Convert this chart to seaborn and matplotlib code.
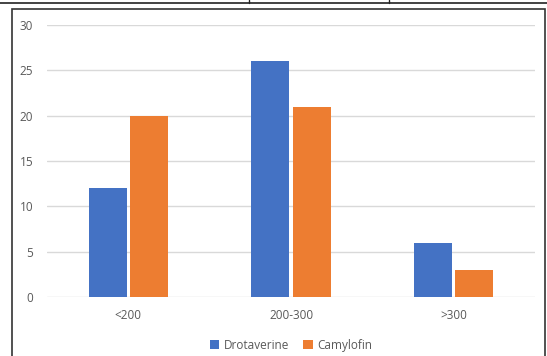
import pandas as pd
import matplotlib.pyplot as plt
import seaborn as sns
from matplotlib.lines import Line2D
from matplotlib.patches import Rectangle

# data
categories = ["<200", "200-300", ">300"]
drotaverine = [12, 26, 6]
camylofin = [20, 21, 3]
series_names = ["Drotaverine", "Camylofin"]
yticks = [0, 5, 10, 15, 20, 25, 30]

df = pd.DataFrame({
    "group": categories * 2,
    "drug": [series_names[0]] * 3 + [series_names[1]] * 3,
    "count": drotaverine + camylofin,
})

sns.set_style("white")
plt.rcParams["font.family"] = ["Open Sans", "DejaVu Sans"]

fig = plt.figure(figsize=(5.47, 3.56), dpi=100)
ax = fig.add_axes([0.086, 0.166, 0.892, 0.764])

sns.barplot(data=df, x="group", y="count", hue="drug", order=categories,
            hue_order=series_names, palette=["#4472C4", "#ED7D31"],
            width=0.51, gap=0.08, saturation=1, linewidth=0, ax=ax, legend=True)

ax.set_ylim(0, 30)
ax.set_yticks(yticks)
ax.set_xlim(-0.5, 2.5)
ax.yaxis.grid(True, color="#d9d9d9", linewidth=1)
ax.set_axisbelow(True)
sns.despine(ax=ax, left=True, bottom=True)
ax.tick_params(axis="both", length=0, labelsize=8.5, colors="#595959", pad=10)
ax.tick_params(axis="x", pad=9)
ax.set_xlabel("")
ax.set_ylabel("")

ax.legend(loc="upper center", bbox_to_anchor=(0.5, -0.115), ncol=2, frameon=False,
          fontsize=8.5, labelcolor="#595959", handlelength=0.8, handleheight=0.8,
          columnspacing=1.2, handletextpad=0.4)

# frame around the chart and table line above
fig.add_artist(Rectangle((12 / 547, -0.01), 533 / 547, 1 - 9 / 356 + 0.01,
                         transform=fig.transFigure, fill=False,
                         edgecolor="#333333", linewidth=1.2))
fig.add_artist(Line2D([0, 1], [1 - 3 / 356] * 2, transform=fig.transFigure,
                      color="#222222", linewidth=1.2))
for xp in [249, 389]:
    fig.add_artist(Line2D([xp / 547] * 2, [1 - 3 / 356, 1], transform=fig.transFigure,
                          color="#222222", linewidth=1.0))

fig.savefig("out.png", dpi=100)
